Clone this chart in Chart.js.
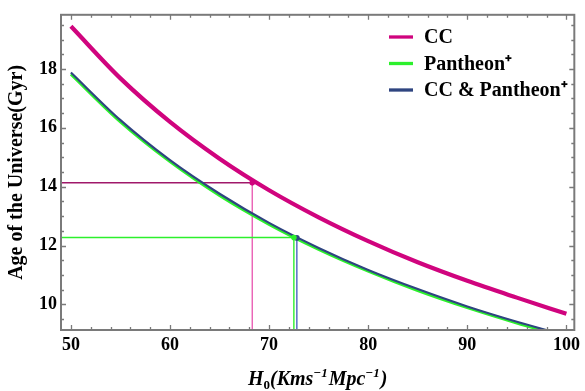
<!DOCTYPE html>
<html>
<head>
<meta charset="utf-8">
<script src="https://cdn.jsdelivr.net/npm/chart.js@4.4.1/dist/chart.umd.min.js"></script>
<style>
html,body{margin:0;padding:0;background:#fff;}
#wrap{width:585px;height:391px;}
</style>
</head>
<body>
<div id="wrap"><canvas id="c" width="585" height="391"></canvas></div>
<script>
// ---- data ----
const H0 = [50, 55, 60, 65, 70, 75, 80, 85, 90, 95, 100];
const ageCC = [19.45, 17.68, 16.20, 14.95, 13.88, 12.96, 12.15, 11.43, 10.80, 10.23, 9.68];
const agePantheon = [17.82, 16.20, 14.85, 13.70, 12.72, 11.87, 11.13, 10.47, 9.89, 9.37, 8.90];
const ageJoint = [17.88, 16.26, 14.90, 13.76, 12.77, 11.92, 11.17, 10.52, 9.93, 9.41, 8.94];
const seriesLabels = ['CC', 'Pantheon\u207A', 'CC & Pantheon\u207A'];
const bestH0 = [68.3, 72.5, 72.8];
const bestAge = [14.13, 12.27, 12.26];
const xTicks = [50, 60, 70, 80, 90, 100];
const yTicks = [10, 12, 14, 16, 18];
const xRange = [49.0, 100.8];
const yRange = [9.13, 19.84];
const yTitle = 'Age of the Universe(Gyr)';
// x title pieces: [text, kind] kind: n = normal, sub = subscript, sup = superscript
const xTitleParts = [['H', 'n'], ['0', 'sub'], ['(Kms', 'n'], ['\u22121', 'sup'], ['Mpc', 'n'], ['\u22121', 'sup'], [')', 'n']];

const curveColors = ['#d0047e', '#2cf02c', '#2f4580'];
const hLineColors = ['#a0196a', '#2cf02c', null];   // joint horizontal hidden under the green one
const vLineColors = ['#e95fb4', '#2cf02c', '#4a64c0'];
const refOrder = [5, 4, 6];
const curveWidths = [4.2, 3, 2.2];

const toXY = (ys) => H0.map((h, i) => ({x: h, y: ys[i]}));
const curves = [ageCC, agePantheon, ageJoint];
const curveOrder = [2, 1, 0];

const datasets = [];
curves.forEach((ys, i) => {
  datasets.push({
    label: seriesLabels[i], data: toXY(ys), borderColor: curveColors[i],
    borderWidth: curveWidths[i], pointRadius: 0, cubicInterpolationMode: 'monotone',
    fill: false, clip: 0, order: curveOrder[i]
  });
});
bestH0.forEach((h, i) => {
  if (hLineColors[i]) {
    datasets.push({
      label: 'h' + i, data: [{x: xRange[0], y: bestAge[i]}, {x: h, y: bestAge[i]}],
      borderColor: hLineColors[i], borderWidth: 1.5, pointRadius: 0, fill: false, clip: 0, order: refOrder[i]
    });
  }
  datasets.push({
    label: 'v' + i, data: [{x: h, y: bestAge[i]}, {x: h, y: yRange[0]}],
    borderColor: vLineColors[i], borderWidth: 1.4, pointRadius: 0, fill: false, clip: 0, order: refOrder[i]
  });
  datasets.push({
    label: 'p' + i, data: [{x: h, y: bestAge[i]}], showLine: false,
    pointRadius: 2.8, pointBackgroundColor: curveColors[i], pointBorderWidth: 0,
    borderColor: curveColors[i], clip: 0, order: -1
  });
});

const serif = '"Liberation Serif", "Times New Roman", serif';
const frameColor = '#7a7a7a';
const framePlugin = {
  id: 'frame',
  afterDatasetsDraw(chart) {
    const {ctx, chartArea: a, scales: {x, y}} = chart;
    ctx.save();
    ctx.strokeStyle = frameColor;
    ctx.lineWidth = 1.3;
    ctx.beginPath();
    for (let v = 50; v <= 100.001; v += 2) {
      const px = Math.round(x.getPixelForValue(v)) + 0.5;
      const len = (Math.abs(v % 10) < 1e-6) ? 5 : 3;
      ctx.moveTo(px, a.bottom); ctx.lineTo(px, a.bottom - len);
      ctx.moveTo(px, a.top); ctx.lineTo(px, a.top + len);
    }
    for (let v = 9.5; v <= 19.501; v += 0.5) {
      const py = Math.round(y.getPixelForValue(v)) + 0.5;
      const len = (Math.abs(v % 2) < 1e-6) ? 5 : 3;
      ctx.moveTo(a.left, py); ctx.lineTo(a.left + len, py);
      ctx.moveTo(a.right, py); ctx.lineTo(a.right - len, py);
    }
    ctx.stroke();
    ctx.lineWidth = 2;
    ctx.strokeRect(a.left, a.top, a.right - a.left, a.bottom - a.top);
    ctx.restore();
  },
  afterDraw(chart) {
    const {ctx, chartArea: a} = chart;
    ctx.save();
    // legend
    ctx.font = 'bold 20px ' + serif;
    ctx.textBaseline = 'middle';
    ctx.fillStyle = '#000';
    seriesLabels.forEach((lab, i) => {
      const yy = 37 + i * 26.5;
      ctx.strokeStyle = curveColors[i];
      ctx.lineWidth = 3.3;
      ctx.beginPath(); ctx.moveTo(389, yy); ctx.lineTo(413, yy); ctx.stroke();
      ctx.fillText(lab, 424, yy + 1);
    });
    // x-axis title with sub/superscripts
    const fonts = {
      n: 'italic bold 20px ' + serif,
      sub: 'bold 13px ' + serif,
      sup: 'italic bold 13px ' + serif
    };
    const shift = {n: 0, sub: 4, sup: -8};
    ctx.textBaseline = 'alphabetic';
    let total = 0;
    xTitleParts.forEach(([t, k]) => { ctx.font = fonts[k]; total += ctx.measureText(t).width + (k === 'sup' ? 1 : 0); });
    let cx = (a.left + a.right) / 2 - total / 2;
    const base = 385;
    xTitleParts.forEach(([t, k]) => {
      ctx.font = fonts[k];
      ctx.fillText(t, cx, base + shift[k]);
      cx += ctx.measureText(t).width + (k === 'sup' ? 1 : 0);
    });
    ctx.restore();
  }
};

const tickFont = {family: serif, size: 18, weight: 'bold'};
const titleFont = {family: serif, size: 20, weight: 'bold'};

new Chart(document.getElementById('c'), {
  type: 'line',
  data: {datasets},
  options: {
    responsive: false, animation: false, devicePixelRatio: 1,
    layout: {padding: {top: 10, right: 7, left: 0, bottom: 0}},
    plugins: {legend: {display: false}, tooltip: {enabled: false}},
    scales: {
      x: {
        type: 'linear', min: xRange[0], max: xRange[1],
        grid: {display: false, drawTicks: false}, border: {display: false},
        afterBuildTicks: (s) => { s.ticks = xTicks.map(v => ({value: v})); },
        afterFit: (s) => { s.height = 61; },
        ticks: {font: tickFont, color: '#000', padding: 5, maxRotation: 0, autoSkip: false}
      },
      y: {
        type: 'linear', min: yRange[0], max: yRange[1],
        grid: {display: false, drawTicks: false}, border: {display: false},
        afterBuildTicks: (s) => { s.ticks = yTicks.map(v => ({value: v})); },
        afterFit: (s) => { s.width = 61; },
        ticks: {font: tickFont, color: '#000', padding: 4, autoSkip: false},
        title: {display: true, text: yTitle, color: '#000', font: titleFont, padding: {top: 5, bottom: 0}}
      }
    }
  },
  plugins: [framePlugin]
});
</script>
</body>
</html>
